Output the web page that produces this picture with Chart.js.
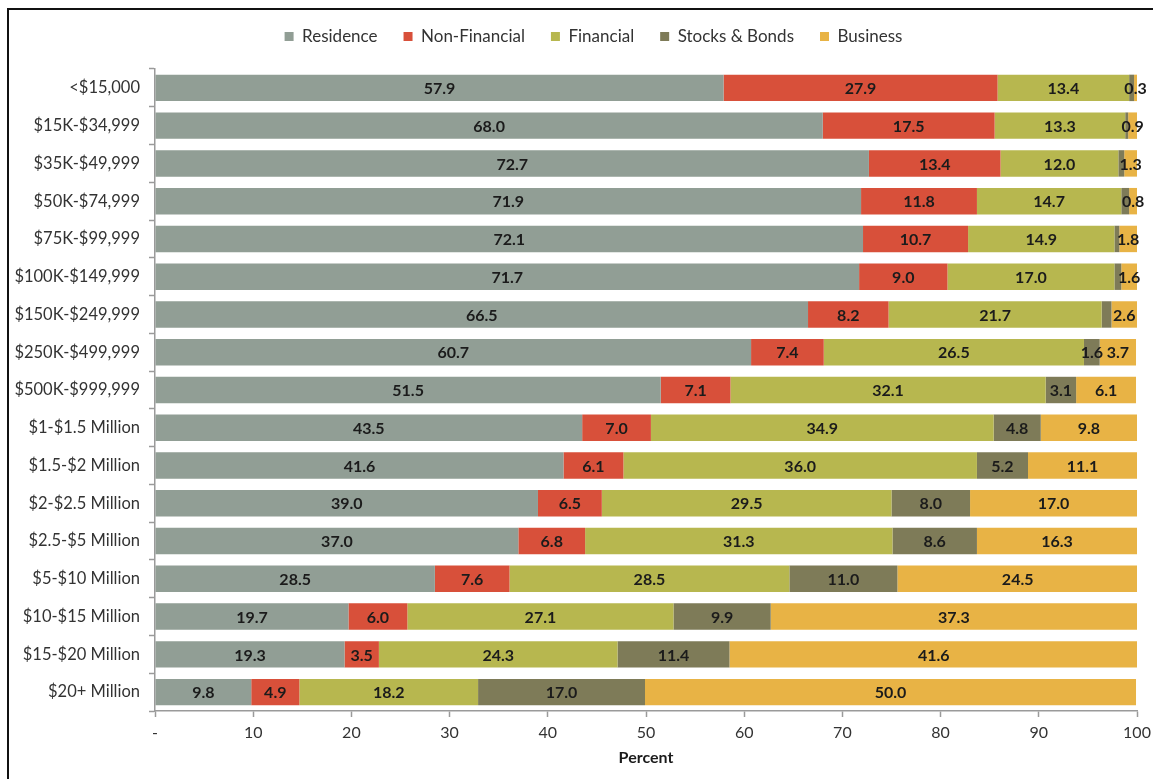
<!DOCTYPE html>
<html>
<head>
<meta charset="utf-8">
<script src="https://cdn.jsdelivr.net/npm/chart.js@4/dist/chart.umd.min.js"></script>
<style>
  html, body { margin: 0; padding: 0; background: #fff; }
  #wrap { position: relative; width: 1153px; height: 779px; }
  #frame { position: absolute; left: 7px; top: 8px; width: 1200px; height: 800px;
           border-left: 2px solid #111; border-top: 2px solid #111; pointer-events: none; }
</style>
</head>
<body>
<div id="wrap">
  <canvas id="wealthChart" width="1153" height="779"></canvas>
  <div id="frame"></div>
</div>
<script>
const categories = ['<$15,000', '$15K-$34,999', '$35K-$49,999', '$50K-$74,999', '$75K-$99,999',
    '$100K-$149,999', '$150K-$249,999', '$250K-$499,999', '$500K-$999,999', '$1-$1.5 Million',
    '$1.5-$2 Million', '$2-$2.5 Million', '$2.5-$5 Million', '$5-$10 Million', '$10-$15 Million',
    '$15-$20 Million', '$20+ Million'];
const residence = [57.9, 68.0, 72.7, 71.9, 72.1, 71.7, 66.5, 60.7, 51.5, 43.5, 41.6, 39.0, 37.0, 28.5, 19.7, 19.3, 9.8];
const nonFinancial = [27.9, 17.5, 13.4, 11.8, 10.7, 9.0, 8.2, 7.4, 7.1, 7.0, 6.1, 6.5, 6.8, 7.6, 6.0, 3.5, 4.9];
const financial = [13.4, 13.3, 12.0, 14.7, 14.9, 17.0, 21.7, 26.5, 32.1, 34.9, 36.0, 29.5, 31.3, 28.5, 27.1, 24.3, 18.2];
const stocksBonds = [0.5, 0.3, 0.6, 0.8, 0.5, 0.7, 1.0, 1.6, 3.1, 4.8, 5.2, 8.0, 8.6, 11.0, 9.9, 11.4, 17.0];
const business = [0.3, 0.9, 1.3, 0.8, 1.8, 1.6, 2.6, 3.7, 6.1, 9.8, 11.1, 17.0, 16.3, 24.5, 37.3, 41.6, 50.0];

const FONT = 'Lato, "DejaVu Sans", sans-serif';

// draws the value in the middle of each segment (small stocks values are left out, like the original)
const segmentLabels = {
    id: 'segmentLabels',
    afterDatasetsDraw(chart) {
        const ctx = chart.ctx;
        ctx.save();
        ctx.font = 'bold 16px ' + FONT;
        ctx.fillStyle = '#1b1b1b';
        ctx.textAlign = 'center';
        ctx.textBaseline = 'middle';
        chart.data.datasets.forEach((ds, di) => {
            chart.getDatasetMeta(di).data.forEach((bar, i) => {
                const v = ds.data[i];
                if (ds.label === 'Stocks & Bonds' && v < 1.5) return;
                const p = bar.getProps(['x', 'y', 'base'], true);
                ctx.fillText(v.toFixed(1), (p.x + p.base) / 2, p.y + 1);
            });
        });
        ctx.restore();
    }
};

// fixed legend height so the plot starts where the original does, legend nudged right
const legendGap = {
    id: 'legendGap',
    beforeInit(chart) {
        const fit = chart.legend.fit;
        chart.legend.fit = function () {
            fit.call(this);
            this.height = 67;
        };
    },
    afterLayout(chart) {
        chart.legend.left += 25;
        chart.legend.right += 25;
    }
};

new Chart(document.getElementById('wealthChart'), {
    type: 'bar',
    data: {
        labels: categories,
        datasets: [
            { label: 'Residence', data: residence, backgroundColor: '#919e95' },
            { label: 'Non-Financial', data: nonFinancial, backgroundColor: '#d8503a' },
            { label: 'Financial', data: financial, backgroundColor: '#b7b74f' },
            { label: 'Stocks & Bonds', data: stocksBonds, backgroundColor: '#7e7b58' },
            { label: 'Business', data: business, backgroundColor: '#e8b345' }
        ]
    },
    options: {
        indexAxis: 'y',
        responsive: false,
        animation: false,
        barPercentage: 0.7,
        categoryPercentage: 1,
        layout: { padding: { left: 0, right: 16, top: 2, bottom: 0 } },
        plugins: {
            legend: {
                position: 'top',
                labels: {
                    boxWidth: 9, boxHeight: 9, padding: 26,
                    color: '#333', font: { family: FONT, size: 17 }
                }
            },
            tooltip: { enabled: false }
        },
        scales: {
            x: {
                stacked: true,
                min: 0, max: 100,
                afterFit(s) { s.height = 68; s.paddingRight = 0; },
                border: { color: '#9a9a9a', width: 1.5 },
                grid: { drawOnChartArea: false, tickLength: 6, color: '#9a9a9a', tickWidth: 1.5 },
                ticks: {
                    stepSize: 10, padding: 6, color: '#333',
                    font: { family: FONT, size: 16 },
                    callback: v => v === 0 ? '-' : v
                },
                title: {
                    display: true, text: 'Percent', color: '#1b1b1b',
                    font: { family: FONT, size: 16, weight: 'bold' },
                    padding: { top: 4, bottom: 12 }
                }
            },
            y: {
                stacked: true,
                afterFit(s) { s.width = 155; },
                border: { color: '#9a9a9a', width: 1.5 },
                grid: { offset: true, drawOnChartArea: false, tickLength: 6, color: '#9a9a9a', tickWidth: 1.5 },
                ticks: { padding: 9, color: '#333', font: { family: FONT, size: 16.5 } }
            }
        }
    },
    plugins: [legendGap, segmentLabels]
});
</script>
</body>
</html>
